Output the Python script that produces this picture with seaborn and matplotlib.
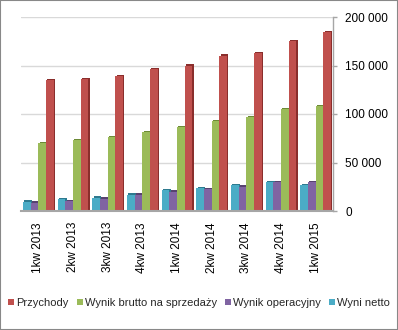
import matplotlib
matplotlib.use("Agg")
import matplotlib.pyplot as plt
import matplotlib.patches as mpatches
import matplotlib.ticker as mticker
import matplotlib.transforms as mtrans
import numpy as np
import pandas as pd
import seaborn as sns

quarters = ["1kw 2013", "2kw 2013", "3kw 2013", "4kw 2013", "1kw 2014",
            "2kw 2014", "3kw 2014", "4kw 2014", "1kw 2015"]
wyni_netto = [9600, 12000, 13700, 16800, 21300, 23700, 26800, 29600, 26500]
wynik_operacyjny = [8600, 10300, 12700, 16800, 19900, 22700, 25000, 29600, 29900]
wynik_brutto = [70100, 73000, 76000, 81000, 86500, 92800, 97000, 105000, 108000]
przychody = [135000, 136000, 139000, 146000, 150000, 160000, 163000, 175000, 184500]

series_names = ["Wyni netto", "Wynik operacyjny", "Wynik brutto na sprzedaży", "Przychody"]
series_values = [wyni_netto, wynik_operacyjny, wynik_brutto, przychody]
series_colors = ["#4BACC6", "#8064A2", "#9BBB59", "#C0504D"]
side_colors = ["#2E7A8F", "#574270", "#6C8A36", "#8A2E2C"]

df = pd.DataFrame({
    "kwartal": np.repeat(quarters, len(series_names)),
    "seria": series_names * len(quarters),
    "wartosc": [vals[i] for i in range(len(quarters)) for vals in series_values],
})

sns.set_style("white")
plt.rcParams["font.family"] = ["Liberation Sans", "DejaVu Sans"]

fig = plt.figure(figsize=(3.98, 3.30), dpi=100)
ax = fig.add_axes([21 / 398, 1 - 211 / 330, 312 / 398, 194 / 330])

sns.barplot(data=df, x="kwartal", y="wartosc", hue="seria",
            order=quarters, hue_order=series_names,
            palette=series_colors, width=0.88, dodge=True,
            saturation=1, edgecolor="none", linewidth=0,
            legend=False, ax=ax)

# a shifted, darker copy behind each column gives it a side and a top face
shift = mtrans.ScaledTranslation(1.3 / 100, 1.3 / 100, fig.dpi_scale_trans)
for container, side in zip(ax.containers, side_colors):
    for bar in container:
        back = mpatches.Rectangle((bar.get_x(), 0), bar.get_width(), bar.get_height(),
                                  facecolor=side, edgecolor="none",
                                  transform=ax.transData + shift,
                                  zorder=bar.get_zorder() - 0.1)
        ax.add_patch(back)

ax.set_ylim(0, 200000)
ax.set_xlim(-0.5, len(quarters) - 0.5)
ax.yaxis.set_major_locator(mticker.MultipleLocator(50000))
ax.yaxis.set_major_formatter(mticker.FuncFormatter(lambda v, p: f"{int(v):,}".replace(",", " ")))
ax.yaxis.tick_right()
ax.grid(axis="y", color="#D9D9D9", linewidth=1)
ax.set_axisbelow(True)

for s in ["top", "left"]:
    ax.spines[s].set_visible(False)
ax.spines["right"].set_color("#A6A6A6")
ax.spines["bottom"].set_color("#A6A6A6")
ax.spines["right"].set_linewidth(1)
ax.spines["bottom"].set_linewidth(1.5)

ax.set_xticks(range(len(quarters)))
ax.set_xticklabels(quarters, rotation=90, va="top", ha="center")
ax.set_xticks(np.arange(-0.5, len(quarters), 1), minor=True)
ax.tick_params(axis="x", which="major", length=0, pad=8, labelsize=8.5, colors="black")
ax.tick_params(axis="x", which="minor", length=3, color="#A6A6A6", width=1)
ax.tick_params(axis="y", which="major", length=3, color="#A6A6A6", width=1,
               pad=6, labelsize=8.5, labelcolor="black")
ax.set_xlabel("")
ax.set_ylabel("")

handles = [mpatches.Patch(facecolor=c, edgecolor="none") for c in series_colors][::-1]
labels = series_names[::-1]
fig.legend(handles, labels, loc="center", bbox_to_anchor=(0.5, 1 - 303 / 330),
           ncol=4, frameon=False, fontsize=8, handlelength=0.55, handleheight=0.55,
           handletextpad=0.15, columnspacing=0.75, borderaxespad=0, borderpad=0)

fig.patches.append(mpatches.Rectangle((0, 0), 1, 1, transform=fig.transFigure,
                                      fill=False, edgecolor="#888888", linewidth=1.5))

fig.savefig("out.png", dpi=100)
